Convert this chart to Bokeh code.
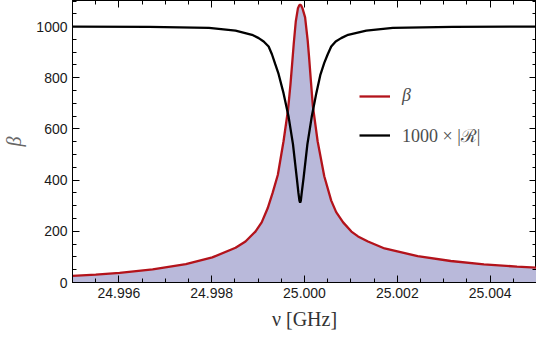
from bokeh.plotting import figure
from bokeh.models import (Range1d, Legend, LegendItem, LinearAxis, SingleIntervalTicker,
                          PrintfTickFormatter, CustomLabelingPolicy, CustomJSTickFormatter, Title)
from bokeh.embed import file_html
from bokeh.resources import INLINE

# ---- data ----
nu_beta = [24.995000, 24.995501, 24.996015, 24.996728, 24.997443, 24.998013, 24.998514,
           24.998728, 24.998942, 24.999077, 24.999206, 24.999313, 24.999426, 24.999548,
           24.999645, 24.999698, 24.999734, 24.999769, 24.999812, 24.999859, 24.999886,
           24.999906, 24.999926, 24.999955, 25.000013, 25.000069, 25.000099, 25.000141,
           25.000180, 25.000283, 25.000426, 25.000576, 25.000683, 25.000833, 25.001011,
           25.001154, 25.001368, 25.001726, 25.002439, 25.003152, 25.003867, 25.004580,
           25.005000]
beta = [26, 31, 38, 51, 72, 98, 136,
        160, 199, 235, 290, 350, 421, 552,
        675, 775, 855, 935, 1020, 1072, 1083,
        1086, 1083, 1072, 1036, 945, 880, 780,
        690, 552, 415, 320, 275, 235, 199,
        180, 160, 133, 103, 84, 71, 62,
        58]

nu_R = [24.995000, 24.996657, 24.997942, 24.998514, 24.998869, 24.999013, 24.999120,
        24.999227, 24.999298, 24.999366, 24.999441, 24.999548, 24.999655, 24.999752,
        24.999833, 24.999869, 24.999891, 24.999906, 24.999921, 24.999940, 24.999981,
        25.000062, 25.000158, 25.000255, 25.000340, 25.000426, 25.000501, 25.000576,
        25.000672, 25.000790, 25.000940, 25.001332, 25.001904, 25.003188, 25.005000]
R1000 = [1000, 999, 995, 984, 968, 955, 942,
         922, 892, 855, 815, 740, 650, 540,
         410, 350, 320, 312, 320, 350, 410,
         540, 650, 740, 810, 858, 892, 922,
         942, 955, 968, 984, 995, 999, 1000]

x_ticks_interval = 0.002
y_ticks_interval = 200
x_title = "ν [GHz]"
y_title = "β"

RED = "#b3131b"
FILL = "#b9b9da"

p = figure(width=536, height=334, x_range=Range1d(24.995, 25.005), y_range=Range1d(0, 1102),
           output_backend="svg", toolbar_location=None,
           min_border_left=65, min_border_right=0, min_border_top=0, min_border_bottom=20)
p.grid.visible = False
p.outline_line_color = "black"
p.outline_line_width = 1
p.background_fill_color = "white"
p.border_fill_color = "white"

p.varea(x=nu_beta, y1=0, y2=beta, color=FILL, alpha=1.0)
red = p.line(nu_beta, beta, line_color=RED, line_width=2.3)
blk = p.line(nu_R, R1000, line_color="black", line_width=2.3)

def style(ax, labels=True):
    ax.axis_line_color = "black"
    ax.major_tick_line_color = "black"
    ax.minor_tick_line_color = "black"
    ax.major_tick_in = 7
    ax.major_tick_out = 0
    ax.minor_tick_in = 4
    ax.minor_tick_out = 0
    if labels:
        ax.major_label_text_font = "Liberation Sans"
        ax.major_label_text_font_size = "14px"
        ax.major_label_text_color = "#1a1a1a"
    else:
        ax.formatter = CustomJSTickFormatter(code="return ''")
        ax.major_label_policy = CustomLabelingPolicy(code="return new Set()")
        ax.major_label_text_font_size = "1px"
        ax.major_label_standoff = 0
        ax.axis_label = None
        ax.axis_label_standoff = 0

xa = p.xaxis[0]
xa.ticker = SingleIntervalTicker(interval=x_ticks_interval, num_minor_ticks=4)
xa.formatter = PrintfTickFormatter(format="%.3f")
style(xa)
xa.major_label_standoff = 5

ya = p.yaxis[0]
ya.ticker = SingleIntervalTicker(interval=y_ticks_interval, num_minor_ticks=4)
style(ya)
ya.major_label_standoff = 5
ya.axis_label = y_title
ya.axis_label_text_font = "Liberation Serif"
ya.axis_label_text_font_style = "italic"
ya.axis_label_text_font_size = "20px"
ya.axis_label_text_color = "#666666"
ya.axis_label_standoff = 8

top = LinearAxis(ticker=SingleIntervalTicker(interval=x_ticks_interval, num_minor_ticks=4))
style(top, labels=False)
p.add_layout(top, "above")
right = LinearAxis(ticker=SingleIntervalTicker(interval=y_ticks_interval, num_minor_ticks=4))
style(right, labels=False)
p.add_layout(right, "right")

# x-axis title as a title panel below the axis
p.add_layout(Title(text=x_title, align="center", text_font="Liberation Serif",
                   text_font_size="20px", text_font_style="normal", text_color="#333333",
                   standoff=10), "below")

def make_legend(label, r, loc, fstyle):
    leg = Legend(items=[LegendItem(label=label, renderers=[r])], location=loc,
                 label_text_font="Liberation Serif", label_text_font_size="18px",
                 label_text_font_style=fstyle, label_text_color="#4d4d4d",
                 glyph_width=31, glyph_height=16, label_height=16, label_standoff=12,
                 padding=0, margin=0, spacing=0,
                 border_line_color=None, background_fill_alpha=0)
    p.add_layout(leg, "center")

make_legend("β", red, (287, 176), "italic")
make_legend("1000 × |ℛ|", blk, (287, 135), "normal")

open("out.html", "w").write(file_html(p, INLINE))
